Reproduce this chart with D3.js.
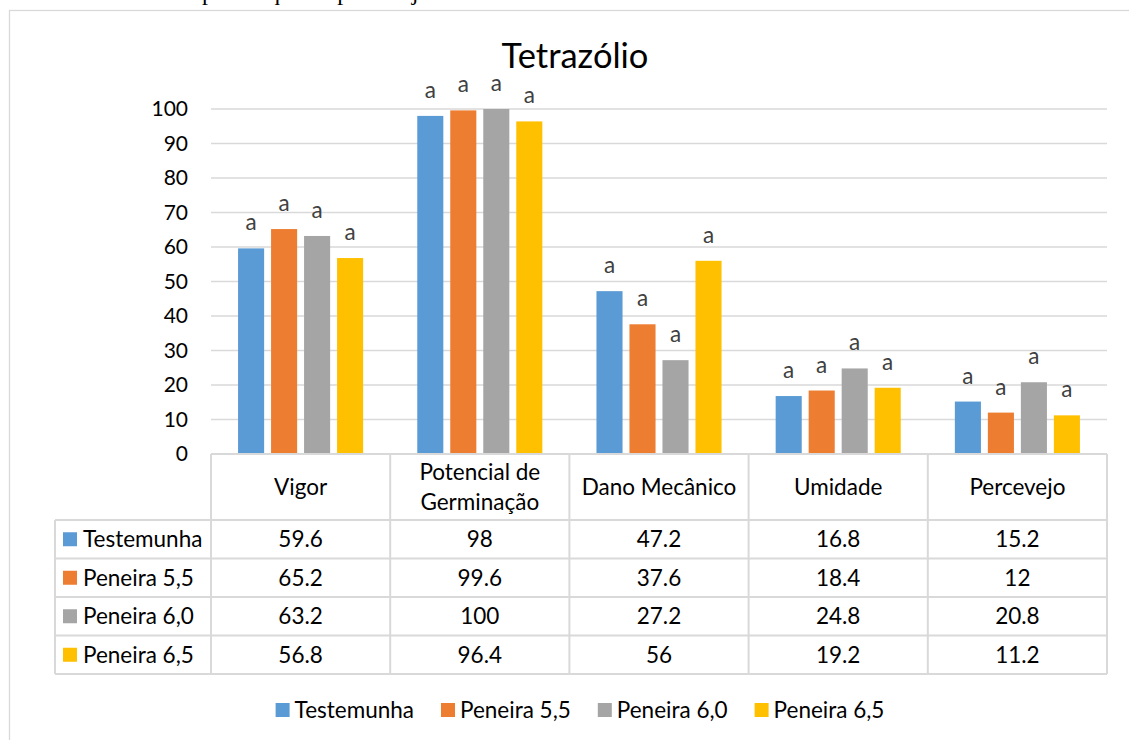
<!DOCTYPE html>
<html>
<head>
<meta charset="utf-8">
<script src="https://cdn.jsdelivr.net/npm/d3@7"></script>
<style>
  body { margin: 0; background: #fff; }
  svg { display: block; font-family: Lato, "Noto Sans", sans-serif; }
</style>
</head>
<body>
<div id="chart"></div>
<script>
// dados do gráfico
const categorias = ["Vigor", "Potencial de Germinação", "Dano Mecânico", "Umidade", "Percevejo"];
const cabecalho = [["Vigor"], ["Potencial de", "Germinação"], ["Dano Mecânico"], ["Umidade"], ["Percevejo"]];
const series = ["Testemunha", "Peneira 5,5", "Peneira 6,0", "Peneira 6,5"];
const testemunha = [59.6, 98, 47.2, 16.8, 15.2];
const peneira55 = [65.2, 99.6, 37.6, 18.4, 12];
const peneira60 = [63.2, 100, 27.2, 24.8, 20.8];
const peneira65 = [56.8, 96.4, 56, 19.2, 11.2];
const letras = ["a", "a", "a", "a"]; // letra do teste de médias (igual para todas)
const yTicks = [0, 10, 20, 30, 40, 50, 60, 70, 80, 90, 100];
const cores = ["#5b9bd5", "#ed7d31", "#a5a5a5", "#ffc000"];
const valores = [testemunha, peneira55, peneira60, peneira65];

const width = 1129, height = 740;
const plot = { left: 211, right: 1107, top: 109, bottom: 454 };
const linhaCor = "#d9d9d9";
const fonteTabela = 22.5;

const svg = d3.select("#chart").append("svg")
    .attr("width", width)
    .attr("height", height);

// texto da página cortado em cima
svg.append("text")
    .attr("x", 0).attr("y", 0)
    .attr("font-family", "'Liberation Serif', serif")
    .attr("font-size", 24)
    .text("Resultados de danos por ataque de percevejo-marrom.");

// borda da área do gráfico
svg.append("rect")
    .attr("x", 9.5).attr("y", 10.5)
    .attr("width", 1200).attr("height", 800)
    .attr("fill", "none")
    .attr("stroke", linhaCor)
    .attr("stroke-width", 1.3);

// título
svg.append("text")
    .attr("x", 575).attr("y", 68)
    .attr("text-anchor", "middle")
    .attr("font-size", 34.5)
    .attr("fill", "#000")
    .text("Tetrazólio");

// escalas
const x0 = d3.scaleBand()
    .domain(categorias)
    .range([plot.left, plot.right]);

const x1 = d3.scaleBand()
    .domain(series)
    .range([0, x0.bandwidth()])
    .paddingInner(0.21)
    .paddingOuter(0.82);

const y = d3.scaleLinear()
    .domain([0, 100])
    .range([plot.bottom, plot.top]);

// linhas de grade
svg.append("g").selectAll("line")
    .data(yTicks)
    .enter()
    .append("line")
    .attr("x1", plot.left).attr("x2", plot.right)
    .attr("y1", d => y(d)).attr("y2", d => y(d))
    .attr("stroke", linhaCor)
    .attr("stroke-width", 1.3);

// eixo y
const yAxis = svg.append("g")
    .attr("transform", `translate(${plot.left},0)`)
    .call(d3.axisLeft(y).tickValues(yTicks).tickSize(0).tickPadding(23));
yAxis.select(".domain").remove();
yAxis.selectAll("text")
    .attr("font-family", "Lato, sans-serif")
    .attr("font-size", 21)
    .attr("fill", "#000");

// barras
const grupos = svg.append("g").selectAll("g")
    .data(series)
    .enter()
    .append("g")
    .attr("fill", (d, i) => cores[i]);

grupos.selectAll("rect")
    .data((s, si) => categorias.map((c, ci) => ({ s, c, v: valores[si][ci] })))
    .enter()
    .append("rect")
    .attr("x", d => x0(d.c) + x1(d.s))
    .attr("y", d => y(d.v))
    .attr("width", x1.bandwidth())
    .attr("height", d => y(0) - y(d.v));

// letras acima das barras
grupos.selectAll("text")
    .data((s, si) => categorias.map((c, ci) => ({ s, c, v: valores[si][ci], l: letras[si] })))
    .enter()
    .append("text")
    .attr("x", d => x0(d.c) + x1(d.s) + x1.bandwidth() / 2)
    .attr("y", d => y(d.v) - 18)
    .attr("text-anchor", "middle")
    .attr("font-size", 22.5)
    .attr("fill", "#404040")
    .text(d => d.l);

// tabela de dados
const tabela = svg.append("g");
const linhaTopo = plot.bottom, cabecalhoFim = 520, alturaLinha = 38.5;
const labelEsq = 55;
const linhasY = series.map((s, i) => cabecalhoFim + i * alturaLinha);
const tabelaFim = cabecalhoFim + series.length * alturaLinha;

// linhas horizontais
tabela.append("line")
    .attr("x1", plot.left).attr("x2", plot.right)
    .attr("y1", linhaTopo).attr("y2", linhaTopo);
[...linhasY, tabelaFim].forEach(yy => {
    tabela.append("line")
        .attr("x1", labelEsq).attr("x2", plot.right)
        .attr("y1", yy).attr("y2", yy);
});
// linhas verticais
tabela.append("line")
    .attr("x1", labelEsq).attr("x2", labelEsq)
    .attr("y1", cabecalhoFim).attr("y2", tabelaFim);
categorias.forEach(c => {
    tabela.append("line")
        .attr("x1", x0(c)).attr("x2", x0(c))
        .attr("y1", linhaTopo).attr("y2", tabelaFim);
});
tabela.append("line")
    .attr("x1", plot.right).attr("x2", plot.right)
    .attr("y1", linhaTopo).attr("y2", tabelaFim);
tabela.selectAll("line")
    .attr("stroke", linhaCor)
    .attr("stroke-width", 2);

// cabeçalho das categorias
categorias.forEach((c, ci) => {
    const linhas = cabecalho[ci];
    const meio = (linhaTopo + cabecalhoFim) / 2;
    linhas.forEach((t, li) => {
        tabela.append("text")
            .attr("x", x0(c) + x0.bandwidth() / 2)
            .attr("y", meio + 8 + (li - (linhas.length - 1) / 2) * 30)
            .attr("text-anchor", "middle")
            .attr("font-size", fonteTabela)
            .attr("fill", "#000")
            .text(t);
    });
});

// linhas de valores
series.forEach((s, si) => {
    const meio = linhasY[si] + alturaLinha / 2;
    tabela.append("rect")
        .attr("x", 63).attr("y", meio - 7)
        .attr("width", 14).attr("height", 14)
        .attr("fill", cores[si]);
    tabela.append("text")
        .attr("x", 83).attr("y", meio + 8)
        .attr("font-size", fonteTabela)
        .attr("fill", "#000")
        .text(s);
    categorias.forEach((c, ci) => {
        tabela.append("text")
            .attr("x", x0(c) + x0.bandwidth() / 2)
            .attr("y", meio + 8)
            .attr("text-anchor", "middle")
            .attr("font-size", fonteTabela)
            .attr("fill", "#000")
            .text(valores[si][ci]);
    });
});

// legenda
const legenda = svg.append("g");
const itens = legenda.selectAll("g")
    .data(series)
    .enter()
    .append("g");
itens.append("rect")
    .attr("y", 703).attr("width", 14).attr("height", 14)
    .attr("fill", (d, i) => cores[i]);
itens.append("text")
    .attr("x", 19).attr("y", 718)
    .attr("font-size", fonteTabela)
    .attr("fill", "#000")
    .text(d => d);
let pos = 0;
const posicoes = [];
itens.each(function() {
    posicoes.push(pos);
    pos += 19 + this.querySelector("text").getComputedTextLength() + 27;
});
const total = pos - 27;
const inicio = 580 - total / 2;
itens.attr("transform", (d, i) => `translate(${inicio + posicoes[i]},0)`);
</script>
</body>
</html>
